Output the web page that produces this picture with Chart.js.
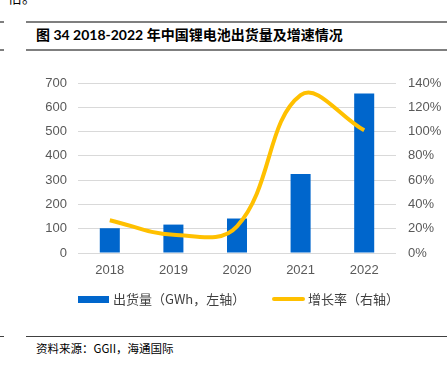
<!DOCTYPE html>
<html>
<head>
<meta charset="utf-8">
<script src="https://cdn.jsdelivr.net/npm/chart.js@4.4.0/dist/chart.umd.min.js"></script>
<style>
  html, body { margin: 0; padding: 0; background: #fff; }
  body { width: 447px; height: 370px; position: relative; overflow: hidden; font-family: "Noto Sans CJK SC", sans-serif; }
  .abs { position: absolute; }
  .hline { position: absolute; background: #7f7f7f; }
  #title { left: 36px; top: 26px; font-size: 14px; font-weight: bold; color: #000; font-family: Lato, "Noto Sans CJK SC", sans-serif; white-space: nowrap; line-height: 18px; }
  #source { left: 36px; top: 340px; font-size: 11.5px; color: #000; white-space: nowrap; line-height: 16px; }
  #prev { left: 8px; top: -11px; font-size: 14px; color: #000; line-height: 16px; }
  #chartwrap { left: 0; top: 0; width: 447px; height: 320px; }
  .leg { position: absolute; font-size: 13px; color: #404040; line-height: 16px; white-space: nowrap; }
</style>
</head>
<body>
<div id="prev" class="abs">倍。</div>
<div class="hline" style="left:0;top:21px;width:4px;height:2px;"></div>
<div class="hline" style="left:26px;top:21px;width:421px;height:2px;"></div>
<div id="title" class="abs">图 34 2018-2022 年中国锂电池出货量及增速情况</div>
<div class="hline" style="left:0;top:49px;width:4px;height:2px;"></div>
<div class="hline" style="left:26px;top:49px;width:421px;height:2px;"></div>

<div id="chartwrap" class="abs"><canvas id="c" width="447" height="320"></canvas></div>

<div class="abs" style="left:78px;top:296px;width:31px;height:7px;background:#0066CC;"></div>
<div class="leg" style="left:113px;top:291px;">出货量（GWh，左轴）</div>
<div class="abs" style="left:272px;top:297px;width:33px;height:4px;background:#FFC000;border-radius:2px;"></div>
<div class="leg" style="left:308px;top:291px;">增长率（右轴）</div>

<div class="abs" style="left:0;top:336px;width:4px;height:1px;background:#404040;"></div>
<div class="abs" style="left:26px;top:336px;width:421px;height:1px;background:#404040;"></div>
<div id="source" class="abs">资料来源：GGII，海通国际</div>

<script>
const categories = ["2018", "2019", "2020", "2021", "2022"];
const shipments = [102, 117, 142, 325, 657];
const growth = [27, 15, 22, 130, 101];
const leftTicks = [0, 100, 200, 300, 400, 500, 600, 700];
const rightTicks = [0, 20, 40, 60, 80, 100, 120, 140];

const tickFont = { family: "Liberation Sans, Arial, sans-serif", size: 13 };
const tickColor = "#595959";

new Chart(document.getElementById("c"), {
  data: {
    labels: categories,
    datasets: [
      {
        type: "line",
        label: "增长率（右轴）",
        data: growth,
        yAxisID: "y1",
        borderColor: "#FFC000",
        backgroundColor: "#FFC000",
        borderWidth: 4,
        tension: 0.4,
        pointRadius: 0,
        fill: false,
        order: 0
      },
      {
        type: "bar",
        label: "出货量（GWh，左轴）",
        data: shipments,
        yAxisID: "y",
        backgroundColor: "#0066CC",
        borderWidth: 0,
        categoryPercentage: 1,
        barPercentage: 0.315,
        order: 1
      }
    ]
  },
  options: {
    responsive: false,
    devicePixelRatio: 1,
    animation: false,
    layout: { padding: { top: 83, left: 0, right: 0, bottom: 0 } },
    plugins: { legend: { display: false }, tooltip: { enabled: false } },
    scales: {
      x: {
        grid: { display: false, drawTicks: false },
        border: { display: false },
        ticks: { font: tickFont, color: tickColor, padding: 10 },
        afterFit: s => { s.height = 67; }
      },
      y: {
        position: "left",
        min: 0, max: 700,
        afterBuildTicks: s => { s.ticks = leftTicks.map(v => ({ value: v })); },
        grid: { color: "#d9d9d9", lineWidth: 1, drawTicks: false },
        border: { display: false },
        ticks: { font: tickFont, color: tickColor, padding: 11 },
        afterFit: s => { s.width = 78; }
      },
      y1: {
        position: "right",
        min: 0, max: 140,
        afterBuildTicks: s => { s.ticks = rightTicks.map(v => ({ value: v })); },
        grid: { display: false, drawTicks: false },
        border: { display: false },
        ticks: { font: tickFont, color: tickColor, padding: 12, callback: v => v + "%" },
        afterFit: s => { s.width = 51; }
      }
    }
  }
});
</script>
</body>
</html>
